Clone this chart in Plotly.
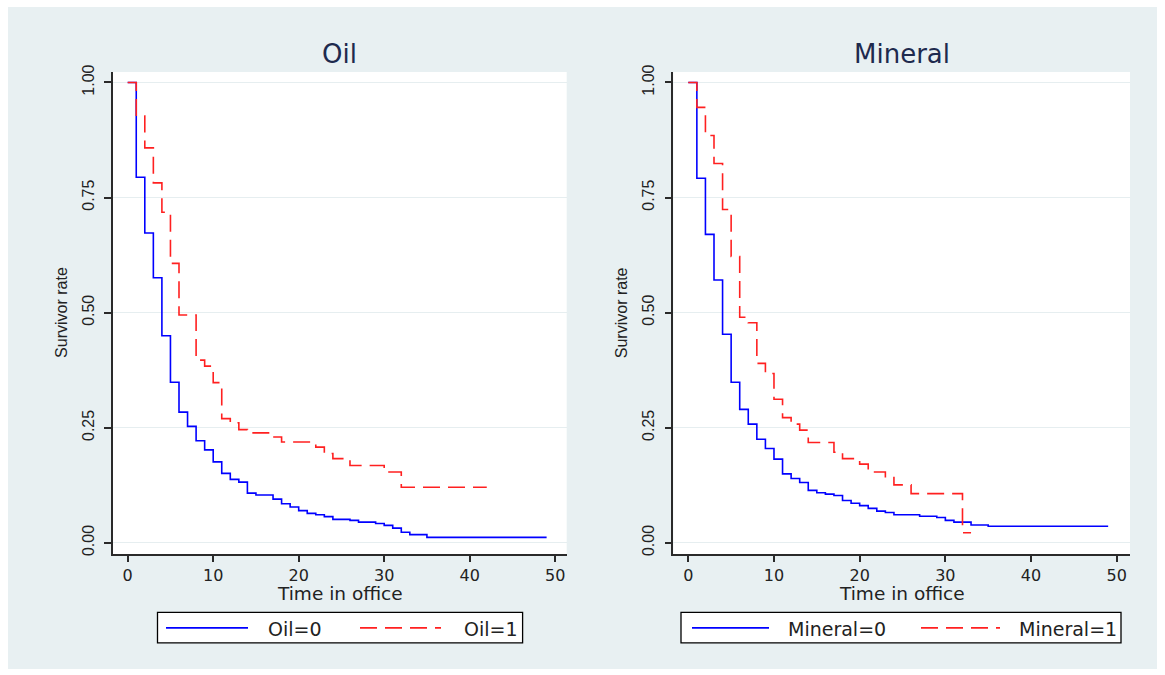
import plotly.graph_objects as go

# ---- data ----
oil0_t = [0, 1, 2, 3, 4, 5, 6, 7, 8, 9, 10, 11, 12, 13, 14, 15, 17, 18, 19, 20, 21, 22, 23, 24, 26, 27, 29, 30, 31, 32, 33, 35, 49]
oil0_s = [1.0, 0.794, 0.673, 0.576, 0.450, 0.349, 0.284, 0.253, 0.222, 0.202, 0.176, 0.151, 0.138, 0.132, 0.108, 0.104, 0.095, 0.085, 0.078, 0.070, 0.064, 0.061, 0.057, 0.051, 0.049, 0.045, 0.042, 0.038, 0.032, 0.023, 0.018, 0.012, 0.012]

oil1_t = [0, 1, 2, 3, 4, 5, 6, 8, 9, 10, 11, 12, 13, 14, 17, 18, 22, 23, 24, 26, 30, 32, 42]
oil1_s = [1.0, 0.927, 0.858, 0.782, 0.718, 0.607, 0.495, 0.397, 0.384, 0.348, 0.270, 0.261, 0.246, 0.239, 0.230, 0.219, 0.208, 0.194, 0.183, 0.168, 0.154, 0.121, 0.121]

min0_t = [0, 1, 2, 3, 4, 5, 6, 7, 8, 9, 10, 11, 12, 13, 14, 15, 16, 17, 18, 19, 20, 21, 22, 23, 24, 27, 29, 30, 31, 33, 35, 49]
min0_s = [1.0, 0.792, 0.670, 0.571, 0.453, 0.349, 0.290, 0.258, 0.225, 0.205, 0.182, 0.150, 0.140, 0.131, 0.114, 0.109, 0.106, 0.103, 0.092, 0.086, 0.081, 0.075, 0.069, 0.066, 0.061, 0.058, 0.055, 0.049, 0.045, 0.039, 0.036, 0.036]

min1_t = [0, 1, 2, 3, 4, 5, 6, 7, 8, 9, 10, 11, 12, 13, 14, 17, 18, 20, 21, 23, 24, 26, 32, 33]
min1_s = [1.0, 0.946, 0.885, 0.824, 0.724, 0.622, 0.490, 0.478, 0.390, 0.368, 0.312, 0.272, 0.258, 0.245, 0.218, 0.197, 0.183, 0.171, 0.154, 0.144, 0.126, 0.107, 0.022, 0.022]

panel_titles = ["Oil", "Mineral"]
legend_labels = [["Oil=0", "Oil=1"], ["Mineral=0", "Mineral=1"]]
x_ticks = [0, 10, 20, 30, 40, 50]
y_ticks = [0, 0.25, 0.5, 0.75, 1.0]
y_ticktext = ["0.00", "0.25", "0.50", "0.75", "1.00"]
x_title = "Time in office"
y_title = "Survivor rate"

# ---- styling ----
W, H = 1165, 675
BLUE = "#0000ff"
RED = "#ff2020"
BG = "#e8f0f2"
GRID = "#e6eef0"
AXC = "#2a2a2a"
DASH = "17px,8px"
WIDE = "DejaVu Sans"
NARROW = "Liberation Sans, Arial"

# the page shows the figure from about y=8 downwards
Y_OFF, Y_SPAN = 8.0, 664.0


def fx(px):
    return px / W


def fy(py):
    return 1 - (py - Y_OFF) / Y_SPAN


fig = go.Figure()

series = [
    (oil0_t, oil0_s, BLUE, "solid", "x", "y"),
    (oil1_t, oil1_s, RED, DASH, "x", "y"),
    (min0_t, min0_s, BLUE, "solid", "x2", "y2"),
    (min1_t, min1_s, RED, DASH, "x2", "y2"),
]
for t, s, c, d, xa, ya in series:
    fig.add_trace(go.Scatter(x=t, y=s, mode="lines", line=dict(color=c, width=1.6, dash=d, shape="hv"),
                             xaxis=xa, yaxis=ya, showlegend=False, hoverinfo="skip"))

panels = [
    dict(x0=113.0, x1=566.7, xr=[-1.72, 51.35]),
    dict(x0=673.3, x1=1130.0, xr=[-1.75, 51.55]),
]
ytop, ybot = 72.7, 553.3
yr = [-0.024, 1.023]

common_x = dict(showline=True, linecolor=AXC, linewidth=1.5, ticks="outside", ticklen=6, tickwidth=1.5,
                tickcolor=AXC, showgrid=False, zeroline=False, tickvals=x_ticks,
                tickfont=dict(family=WIDE, size=16, color="#222"), fixedrange=True)
common_y = dict(showline=True, linecolor=AXC, linewidth=1.5, ticks="outside", ticklen=7, tickwidth=1.5,
                tickcolor=AXC, showgrid=True, gridcolor=GRID, gridwidth=1, zeroline=False,
                tickvals=y_ticks, ticktext=y_ticktext, tickangle=-90, ticklabelstandoff=4,
                tickfont=dict(family=NARROW, size=16, color="#222"), range=yr, fixedrange=True)

fig.update_layout(
    xaxis=dict(domain=[fx(panels[0]["x0"]), fx(panels[0]["x1"])], range=panels[0]["xr"], anchor="y", **common_x),
    yaxis=dict(domain=[fy(ybot), fy(ytop)], anchor="x", **common_y),
    xaxis2=dict(domain=[fx(panels[1]["x0"]), fx(panels[1]["x1"])], range=panels[1]["xr"], anchor="y2", **common_x),
    yaxis2=dict(domain=[fy(ybot), fy(ytop)], anchor="x2", **common_y),
)

shapes = [dict(type="rect", xref="paper", yref="paper", x0=fx(8), x1=fx(1157), y0=fy(668), y1=fy(8),
               fillcolor=BG, line=dict(width=0), layer="below")]
for p in panels:
    shapes.append(dict(type="rect", xref="paper", yref="paper", x0=fx(p["x0"]), x1=fx(p["x1"]),
                       y0=fy(ybot), y1=fy(ytop), fillcolor="white", line=dict(width=0), layer="below"))

annotations = []
legends = [
    dict(box=(157.5, 522.6), l0=(166, 248), t0=265.6, l1=(360, 441), t1=461.7),
    dict(box=(681.0, 1121.0), l0=(692, 769), t0=786.0, l1=(921, 1000), t1=1017.0),
]
ly0, ly1, lyc = 611.5, 642.0, 627.0
for i, (p, lg) in enumerate(zip(panels, legends)):
    cx = (p["x0"] + p["x1"]) / 2
    annotations.append(dict(text=panel_titles[i], x=fx(cx), y=fy(55), xref="paper", yref="paper",
                            showarrow=False, xanchor="center", yanchor="middle",
                            font=dict(family=WIDE, size=26, color="#1e2a4e")))
    annotations.append(dict(text=x_title, x=fx(cx), y=fy(593), xref="paper", yref="paper",
                            showarrow=False, xanchor="center", yanchor="middle",
                            font=dict(family=WIDE, size=18.5, color="#222")))
    annotations.append(dict(text=y_title, x=fx(p["x0"] - 51), y=fy(313), xref="paper", yref="paper",
                            showarrow=False, xanchor="center", yanchor="middle", textangle=-90,
                            font=dict(family=NARROW, size=16, color="#222")))
    shapes.append(dict(type="rect", xref="paper", yref="paper", x0=fx(lg["box"][0]), x1=fx(lg["box"][1]),
                       y0=fy(ly1), y1=fy(ly0), fillcolor="white", line=dict(color="black", width=1.3)))
    shapes.append(dict(type="line", xref="paper", yref="paper", x0=fx(lg["l0"][0]), x1=fx(lg["l0"][1]),
                       y0=fy(lyc), y1=fy(lyc), line=dict(color=BLUE, width=1.6)))
    shapes.append(dict(type="line", xref="paper", yref="paper", x0=fx(lg["l1"][0]), x1=fx(lg["l1"][1]),
                       y0=fy(lyc), y1=fy(lyc), line=dict(color=RED, width=1.6, dash=DASH)))
    for lab, xx in zip(legend_labels[i], [lg["t0"], lg["t1"]]):
        annotations.append(dict(text=lab, x=fx(xx), y=fy(lyc + 1), xref="paper", yref="paper",
                                showarrow=False, xanchor="left", yanchor="middle",
                                font=dict(family=WIDE, size=19, color="#222")))

fig.update_layout(
    width=W, height=H, margin=dict(l=0, r=0, t=0, b=0),
    paper_bgcolor="white", plot_bgcolor="rgba(0,0,0,0)",
    shapes=shapes, annotations=annotations, showlegend=False,
)

fig.write_html("out.html", config={"displayModeBar": False})
